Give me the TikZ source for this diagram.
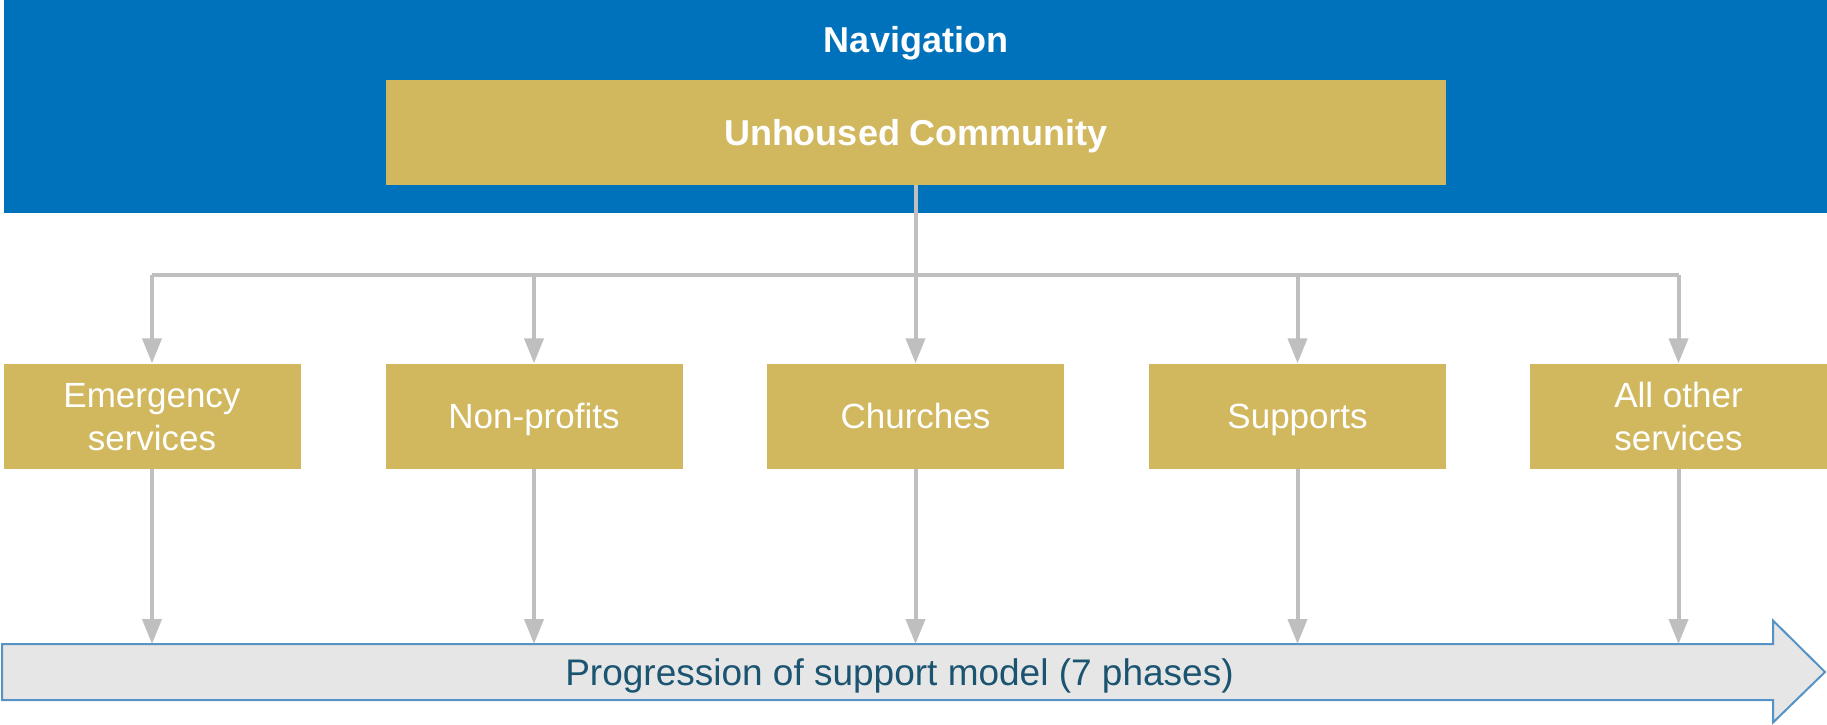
\documentclass[tikz,border=0pt]{standalone}
\usepackage{fontspec}
\setmainfont{Liberation Sans}
\usetikzlibrary{arrows.meta}
\definecolor{navblue}{HTML}{0072BC}
\definecolor{gold}{HTML}{D1B85F}
\definecolor{conngray}{HTML}{BFBFBF}
\definecolor{arrfill}{HTML}{E6E6E6}
\definecolor{arredge}{HTML}{5592C6}
\definecolor{arrtext}{HTML}{1B5470}
\tikzset{
  capcenter/.style={text height=#1, text depth=0pt},
  goldbox/.style={fill=gold, inner sep=0pt, text=white, align=center},
  childbox/.style={goldbox, capcenter=25pt, minimum width=297pt, minimum height=105pt, font=\fontsize{35}{43}\selectfont},
  twoline/.style={capcenter=68pt},
  conn/.style={draw=conngray, line width=4pt},
  connarr/.style={conn, -{Triangle[length=25pt,width=19pt]}},
}
\begin{document}
\begin{tikzpicture}[x=1pt,y=-1pt]
\useasboundingbox (0,0) rectangle (1827,724);
% header band
\fill[navblue] (3.5,0) rectangle (1827,212.5);
\node[text=white, inner sep=0pt, capcenter=25.8pt, font=\fontsize{36}{43}\selectfont\bfseries] (nav) at (916,40) {Navigation};
\node[goldbox, capcenter=25.8pt, minimum width=1060pt, minimum height=105pt, font=\fontsize{36}{43}\selectfont\bfseries] (top) at (916,132.5) {Unhoused Community};
% children
\node[childbox, twoline] (c1) at (152,416) {Emergency\\services};
\node[childbox] (c2) at (534,416) {Non-profits};
\node[childbox] (c3) at (915.5,416) {Churches};
\node[childbox] (c4) at (1297.5,416) {Supports};
\node[childbox, twoline] (c5) at (1678.5,416) {All other\\services};
% progression arrow
\draw[arredge, fill=arrfill, line width=2pt, line join=miter]
  (2,644) -- (1773,644) -- (1773,620.5) -- (1825,672) -- (1773,722.5) -- (1773,700) -- (2,700) -- cycle;
\node[text=arrtext, inner sep=0pt, capcenter=26.5pt, font=\fontsize{37}{43}\selectfont] (prog) at (899.5,672.5) {Progression of support model (7 phases)};
\coordinate (p1) at (152,644);
\coordinate (p2) at (534,644);
\coordinate (p3) at (915.5,644);
\coordinate (p4) at (1297.5,644);
\coordinate (p5) at (1678.5,644);
% bus
\coordinate (busL) at (152,275);
\coordinate (busR) at (1678.5,275);
\draw[conn] (busL) -- (busR);
\draw[conn] (top.south) -- (top.south |- busL);
\foreach \c in {c1,c2,c3,c4,c5}{
  \draw[connarr] (\c.north |- busL) -- (\c.north);
}
\draw[connarr] (c1.south) -- (p1);
\draw[connarr] (c2.south) -- (p2);
\draw[connarr] (c3.south) -- (p3);
\draw[connarr] (c4.south) -- (p4);
\draw[connarr] (c5.south) -- (p5);
\end{tikzpicture}
\end{document}
